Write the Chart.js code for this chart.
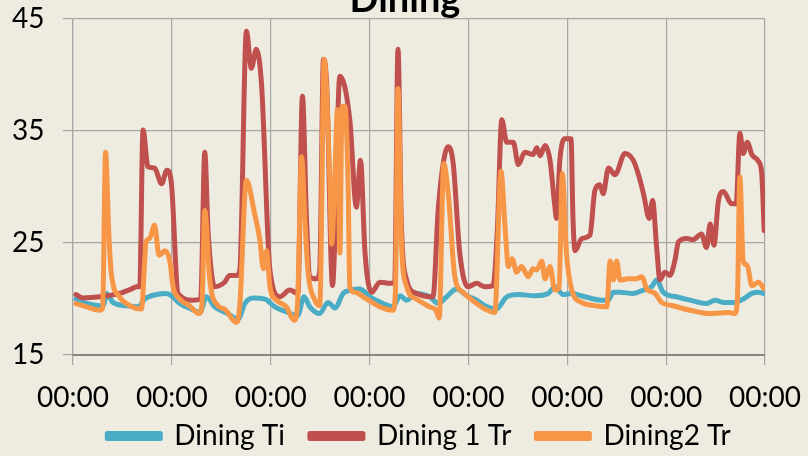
<!DOCTYPE html>
<html lang="en">
<head>
  <meta charset="UTF-8" />
  <title>Dining</title>
  <script src="https://cdn.jsdelivr.net/npm/chart.js"></script>
  <style>
    html, body { margin: 0; padding: 0; background: #eeece1; }
    #wrap { width: 808px; height: 456px; overflow: hidden; }
  </style>
</head>
<body>
  <div id="wrap"><canvas id="dining" width="808" height="456"></canvas></div>

  <script>
    // series: [hour since start, temperature]
    const tiPoints = [
      [0.7,20.0],[3.3,19.6],[6.5,19.4],[7.5,19.5],[8.1,20.5],[9.7,19.7],[13.0,19.4],[15.8,19.3],[17.4,20.0],[20.3,20.4],
      [22.7,20.5],[23.9,20.3],[25.9,19.6],[28.8,19.1],[30.8,18.8],[32.4,20.2],[34.4,19.3],[37.6,18.7],[40.1,18.2],[41.7,19.6],
      [43.7,20.1],[46.6,20.0],[49.0,19.3],[52.2,18.8],[54.5,18.5],[56.1,20.2],[57.5,19.3],[59.9,18.7],[61.9,19.7],[63.6,19.2],
      [65.6,20.5],[67.6,20.8],[69.6,20.9],[72.1,20.2],[75.3,19.6],[77.7,19.3],[79.4,20.3],[81.0,19.9],[83.4,20.5],[86.6,20.2],
      [88.7,19.6],[90.7,20.2],[93.1,20.9],[95.6,20.3],[98.0,19.9],[100.0,19.4],[102.8,19.1],[105.3,20.2],[108.1,20.4],[112.1,20.3],
      [115.4,20.5],[117.0,21.1],[119.0,20.4],[121.1,20.5],[124.3,20.2],[128.3,19.9],[129.9,19.9],[131.2,20.6],[132.8,20.6],[136.0,20.5],
      [138.5,20.8],[140.5,21.1],[141.7,21.7],[143.3,20.6],[146.5,20.2],[149.8,19.9],[153.8,19.6],[155.9,19.9],[157.9,19.7],[160.7,19.7],
      [162.7,20.0],[164.8,20.5],[166.4,20.6],[167.8,20.5]
    ];
    const tr1Points = [
      [0.7,20.4],[2.4,20.1],[6.5,20.2],[11.3,20.5],[14.2,20.9],[15.4,21.1],[16.2,21.1],[17.0,35.1],[18.2,31.8],[19.8,31.7],
      [21.5,30.3],[22.8,31.5],[23.9,30.3],[25.5,20.5],[29.1,19.9],[31.0,20.0],[32.0,33.1],[32.8,26.0],[34.4,21.1],[36.8,21.5],
      [38.0,22.1],[39.7,22.1],[40.5,22.6],[42.1,43.9],[43.3,40.6],[44.5,42.3],[45.8,39.0],[47.8,22.6],[50.2,20.2],[52.6,20.8],
      [54.6,20.5],[55.7,38.1],[56.7,27.0],[57.5,22.0],[59.1,21.8],[59.9,22.5],[60.8,41.4],[61.6,39.0],[63.0,21.2],[64.8,39.9],
      [67.2,36.0],[68.8,28.2],[69.8,32.4],[70.9,24.1],[72.5,20.6],[74.5,21.5],[76.9,21.4],[78.1,21.4],[78.9,42.3],[79.7,27.0],
      [81.0,21.7],[83.4,20.5],[87.4,20.2],[88.7,28.2],[91.1,33.6],[92.3,32.1],[93.9,24.1],[95.9,21.1],[98.0,21.4],[100.0,21.1],
      [102.0,21.2],[103.0,26.0],[104.1,36.0],[105.3,34.0],[106.9,34.0],[108.1,32.0],[109.7,33.1],[111.7,32.9],[112.6,33.5],[113.4,32.8],
      [114.6,33.7],[115.8,32.4],[117.0,28.2],[117.4,27.2],[118.2,32.4],[119.4,34.3],[120.9,34.3],[121.4,27.0],[121.9,24.3],[123.5,25.4],
      [125.5,25.7],[126.7,29.7],[127.9,30.2],[128.7,29.4],[130.0,31.7],[131.2,31.2],[131.6,31.1],[134.0,33.0],[136.0,32.4],[137.2,31.2],
      [138.5,29.4],[139.9,27.2],[140.7,28.8],[141.7,24.6],[142.5,21.7],[143.7,22.4],[144.9,22.1],[146.1,23.4],[147.0,25.1],[149.0,25.4],
      [150.5,25.3],[152.6,25.8],[153.8,24.6],[154.7,26.7],[155.6,24.8],[156.7,28.8],[157.9,29.6],[159.9,28.5],[161.0,28.5],[161.9,34.8],
      [162.7,33.0],[163.7,34.0],[164.8,32.9],[166.4,32.3],[167.2,31.2],[167.8,26.1]
    ];
    const tr2Points = [
      [0.7,19.6],[3.3,19.3],[6.5,19.0],[7.2,19.2],[7.9,33.1],[8.7,25.8],[9.3,22.3],[11.3,20.2],[13.8,19.4],[16.6,19.1],
      [17.8,25.2],[18.6,25.4],[19.8,26.6],[20.9,23.9],[22.3,24.3],[23.5,23.4],[24.3,21.1],[25.9,20.0],[28.3,19.4],[30.6,18.7],
      [31.3,19.5],[32.0,27.9],[33.2,21.7],[35.2,19.4],[36.8,19.1],[39.7,17.9],[40.5,19.5],[42.1,30.6],[44.1,27.6],[45.4,25.2],
      [46.2,22.7],[47.0,24.3],[47.8,21.1],[49.4,19.9],[51.8,19.3],[53.7,18.1],[54.5,19.5],[55.5,32.7],[56.3,27.0],[57.1,22.3],
      [58.7,19.9],[59.9,19.4],[61.0,41.4],[61.5,39.0],[62.4,30.0],[62.8,24.9],[63.5,30.0],[64.2,36.9],[64.8,24.1],[65.3,37.2],
      [66.0,37.2],[66.8,30.0],[67.2,21.1],[68.4,20.6],[71.3,20.0],[74.5,19.3],[77.7,19.0],[78.3,21.0],[78.9,38.8],[79.7,25.5],
      [81.0,21.1],[83.4,20.0],[86.6,19.3],[88.1,19.0],[88.9,18.3],[90.0,32.1],[91.1,29.4],[92.7,22.0],[94.7,20.6],[98.0,19.6],
      [100.0,19.1],[102.4,18.8],[103.9,31.4],[104.9,26.4],[105.7,22.9],[106.6,23.6],[107.7,22.4],[108.9,22.9],[110.5,22.0],[111.7,22.7],
      [112.6,22.6],[113.8,23.4],[114.6,21.8],[115.8,22.9],[117.0,20.8],[118.0,21.0],[118.8,31.2],[119.8,24.1],[121.1,20.8],[123.5,19.7],
      [126.7,19.4],[129.6,19.3],[130.4,23.4],[131.2,21.7],[132.0,23.4],[132.8,21.7],[134.8,21.8],[136.7,21.8],[138.1,22.0],[139.3,20.9],
      [141.3,20.5],[142.9,19.7],[145.7,19.4],[149.8,19.0],[154.7,18.7],[159.1,18.8],[160.7,18.7],[161.3,20.0],[161.9,30.9],[162.7,23.4],
      [163.7,23.0],[164.8,21.2],[166.4,21.5],[167.8,20.9]
    ];
    const seriesNames = ["Dining Ti", "Dining 1 Tr", "Dining2 Tr"];
    const tickLabel = "00:00";
    const yTicks = [15, 25, 35, 45];

    const toXY = pts => pts.map(p => ({ x: p[0], y: p[1] }));

    function line(label, pts, color, order) {
      return {
        label: label,
        data: toXY(pts),
        borderColor: color,
        backgroundColor: color,
        borderWidth: 5,
        pointRadius: 0,
        cubicInterpolationMode: 'monotone',
        borderCapStyle: 'round',
        borderJoinStyle: 'round',
        fill: false,
        order: order
      };
    }

    // draws the (clipped) chart title above the plot
    const titlePlugin = {
      id: 'topTitle',
      afterDraw(chart) {
        const ctx = chart.ctx;
        ctx.save();
        ctx.font = 'bold 38px Lato';
        ctx.fillStyle = '#000';
        ctx.textAlign = 'center';
        ctx.textBaseline = 'alphabetic';
        ctx.fillText('Dining', 405, 12);
        ctx.restore();
      }
    };

    // legend sits centred under the plot area, a bit tucked under the tick labels
    const legendPlace = {
      id: 'legendPlace',
      afterLayout(chart) {
        const lg = chart.legend;
        const ca = chart.chartArea;
        lg.left = ca.left - 40;
        lg.right = ca.right + 40;
        lg.top = 436 - lg.options.labels.padding - 14;
        lg.bottom = chart.height;
      }
    };

    Chart.defaults.color = '#000';
    Chart.defaults.font.family = 'Lato';

    new Chart(document.getElementById("dining").getContext("2d"), {
      type: 'line',
      data: {
        datasets: [
          line(seriesNames[0], tiPoints, '#4bacc6', 2),
          line(seriesNames[1], tr1Points, '#c0504d', 1),
          line(seriesNames[2], tr2Points, '#f79646', 0)
        ]
      },
      options: {
        responsive: false,
        animation: false,
        layout: { padding: { top: 19, right: 43, bottom: 0, left: 12 } },
        scales: {
          x: {
            type: 'linear',
            min: 0,
            max: 168,
            ticks: {
              stepSize: 24,
              autoSkip: false,
              maxRotation: 0,
              padding: 4,
              font: { size: 28, lineHeight: 2.07 },
              callback: () => tickLabel
            },
            grid: { color: '#a6a6a6', lineWidth: 1.2, tickLength: 10 },
            border: { color: '#868686', width: 2 }
          },
          y: {
            min: yTicks[0],
            max: yTicks[yTicks.length - 1],
            afterBuildTicks: s => { s.ticks = yTicks.map(v => ({ value: v })); },
            afterFit: s => { s.width = 61; },
            ticks: { padding: 0, crossAlign: 'far', font: { size: 28 } },
            grid: { color: '#a6a6a6', lineWidth: 1.2, tickLength: 10 },
            border: { color: '#a6a6a6', width: 1.2 }
          }
        },
        plugins: {
          title: { display: false },
          tooltip: { enabled: false },
          legend: {
            position: 'bottom',
            maxHeight: 25,
            labels: {
              boxWidth: 53,
              boxHeight: 5,
              padding: 25,
              font: { size: 28 },
              sort: (a, b) => a.datasetIndex - b.datasetIndex
            }
          }
        }
      },
      plugins: [titlePlugin, legendPlace]
    });
  </script>
</body>
</html>
